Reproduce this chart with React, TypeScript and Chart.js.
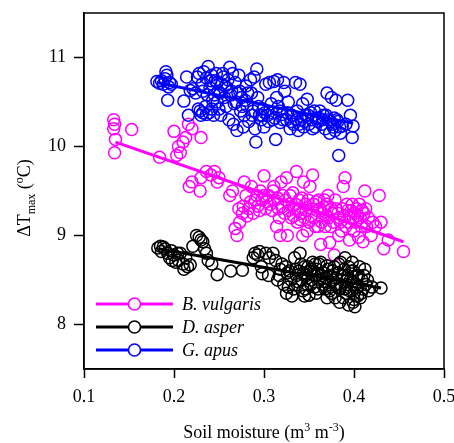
import React, { useEffect, useRef } from "react";
import { Chart, registerables } from "chart.js";

Chart.register(...registerables);

const X_MIN = 0.1;
const X_MAX = 0.5;
const Y_MIN = 7.5;
const Y_MAX = 11.5;
const X_TICKS = [0.1, 0.2, 0.3, 0.4, 0.5];
const Y_TICKS = [8, 9, 10, 11];

const SERIES_NAMES = ["B. vulgaris", "D. asper", "G. apus"];
const SERIES_COLORS = ["#ff00ff", "#000000", "#0000ff"];

// G. apus (blue)
const gApus: number[][] = [
  [0.181, 10.73], [0.184, 10.71], [0.186, 10.74], [0.188, 10.7], [0.19, 10.76], [0.191, 10.84], [0.192, 10.8],
  [0.193, 10.52], [0.194, 10.67], [0.195, 10.72], [0.197, 10.7], [0.211, 10.51], [0.214, 10.78], [0.216, 10.35],
  [0.218, 10.63], [0.221, 10.65], [0.224, 10.6], [0.226, 10.78], [0.228, 10.82], [0.229, 10.4], [0.23, 10.35],
  [0.231, 10.7], [0.233, 10.84], [0.235, 10.45], [0.236, 10.77], [0.238, 10.9], [0.239, 10.38], [0.24, 10.66],
  [0.242, 10.8], [0.243, 10.52], [0.244, 10.35], [0.246, 10.74], [0.247, 10.82], [0.249, 10.62], [0.25, 10.42],
  [0.252, 10.35], [0.253, 10.7], [0.255, 10.78], [0.256, 10.55], [0.258, 10.45], [0.259, 10.66], [0.261, 10.3],
  [0.262, 10.89], [0.263, 10.58], [0.265, 10.82], [0.266, 10.25], [0.267, 10.48], [0.268, 10.72], [0.27, 10.18],
  [0.271, 10.6], [0.272, 10.8], [0.274, 10.4], [0.275, 10.55], [0.277, 10.22], [0.278, 10.35], [0.28, 10.68],
  [0.281, 10.46], [0.283, 10.28], [0.285, 10.75], [0.286, 10.6], [0.288, 10.4], [0.289, 10.78], [0.29, 10.2],
  [0.291, 10.05], [0.292, 10.87], [0.293, 10.55], [0.295, 10.35], [0.297, 10.3], [0.299, 10.42], [0.3, 10.22],
  [0.302, 10.7], [0.304, 10.35], [0.306, 10.72], [0.308, 10.48], [0.31, 10.3], [0.311, 10.73], [0.313, 10.08],
  [0.314, 10.55], [0.315, 10.75], [0.317, 10.4], [0.318, 10.27], [0.32, 10.36], [0.322, 10.72], [0.323, 10.62],
  [0.325, 10.3], [0.327, 10.5], [0.329, 10.2], [0.331, 10.35], [0.333, 10.25], [0.335, 10.72], [0.337, 10.4],
  [0.338, 10.18], [0.34, 10.7], [0.341, 10.3], [0.343, 10.48], [0.344, 10.22], [0.346, 10.35], [0.348, 10.53],
  [0.35, 10.25], [0.352, 10.38], [0.354, 10.2], [0.356, 10.4], [0.358, 10.32], [0.36, 10.28], [0.362, 10.4],
  [0.364, 10.25], [0.366, 10.35], [0.368, 10.2], [0.37, 10.6], [0.372, 10.3], [0.373, 10.15], [0.375, 10.55],
  [0.376, 10.25], [0.378, 10.32], [0.379, 10.18], [0.38, 10.52], [0.382, 10.28], [0.383, 9.9], [0.385, 10.15],
  [0.387, 10.23], [0.391, 10.25], [0.393, 10.52], [0.396, 10.35], [0.398, 10.1], [0.399, 10.23],
  [0.232, 10.62], [0.237, 10.58], [0.241, 10.74], [0.245, 10.58], [0.248, 10.72], [0.251, 10.6], [0.254, 10.82],
  [0.257, 10.68], [0.26, 10.75], [0.264, 10.62], [0.269, 10.5], [0.273, 10.62], [0.276, 10.45], [0.279, 10.52],
  [0.282, 10.6], [0.287, 10.35], [0.294, 10.45], [0.298, 10.35], [0.301, 10.38], [0.305, 10.28], [0.309, 10.38],
  [0.312, 10.32], [0.316, 10.45], [0.321, 10.3], [0.326, 10.38], [0.33, 10.28], [0.336, 10.3], [0.339, 10.25],
  [0.345, 10.28], [0.349, 10.35], [0.353, 10.3], [0.357, 10.22], [0.361, 10.32], [0.365, 10.3], [0.369, 10.35],
  [0.374, 10.28], [0.377, 10.22], [0.381, 10.3], [0.384, 10.22], [0.232, 10.38], [0.227, 10.42], [0.236, 10.36],
  [0.242, 10.42], [0.248, 10.5],
];

// B. vulgaris (magenta)
const bVulgaris: number[][] = [
  [0.133, 10.3], [0.134, 10.25], [0.133, 10.2], [0.135, 10.08], [0.134, 9.93], [0.153, 10.19], [0.184, 9.88],
  [0.2, 10.17], [0.203, 9.9], [0.205, 10.0], [0.207, 9.93], [0.21, 10.05], [0.213, 10.1], [0.216, 10.25],
  [0.22, 10.2], [0.23, 10.1], [0.217, 9.55], [0.22, 9.6], [0.229, 9.5], [0.23, 9.65], [0.236, 9.72], [0.241, 9.68],
  [0.245, 9.72], [0.248, 9.6], [0.25, 9.65], [0.262, 9.45], [0.265, 9.5], [0.268, 9.08], [0.27, 9.0], [0.273, 9.15],
  [0.272, 9.3], [0.276, 9.25], [0.278, 9.6], [0.28, 9.45], [0.283, 9.3], [0.286, 9.55], [0.288, 9.25], [0.29, 9.4],
  [0.293, 9.33], [0.296, 9.5], [0.298, 9.4], [0.3, 9.67], [0.302, 9.3], [0.305, 9.45], [0.307, 9.35], [0.31, 9.5],
  [0.312, 9.4], [0.314, 9.1], [0.316, 9.3], [0.318, 9.0], [0.319, 9.6], [0.321, 9.45], [0.323, 9.25], [0.325, 9.65],
  [0.326, 9.0], [0.328, 9.35], [0.33, 9.2], [0.332, 9.48], [0.334, 9.3], [0.336, 9.72], [0.337, 9.15], [0.339, 9.4],
  [0.341, 9.25], [0.343, 9.0], [0.344, 9.6], [0.346, 9.35], [0.348, 9.05], [0.35, 9.15], [0.351, 9.55], [0.353, 9.3],
  [0.354, 9.68], [0.356, 9.2], [0.358, 9.38], [0.36, 9.1], [0.362, 9.3], [0.363, 8.9], [0.365, 9.25], [0.367, 9.4],
  [0.368, 9.1], [0.37, 9.35], [0.372, 9.2], [0.373, 8.92], [0.375, 9.3], [0.377, 9.15], [0.379, 9.4], [0.378, 8.78],
  [0.382, 9.25], [0.383, 9.0], [0.385, 9.15], [0.387, 9.3], [0.388, 9.55], [0.39, 9.65], [0.391, 9.1], [0.393, 9.28],
  [0.395, 8.95], [0.396, 9.2], [0.398, 9.35], [0.4, 9.05], [0.401, 9.25], [0.403, 9.3], [0.405, 8.98], [0.407, 9.2],
  [0.409, 9.28], [0.41, 8.93], [0.412, 9.5], [0.414, 9.1], [0.416, 9.2], [0.419, 9.0], [0.421, 9.15], [0.424, 9.1],
  [0.428, 9.45], [0.43, 9.15], [0.433, 8.85], [0.438, 8.95], [0.455, 8.82],
  [0.3, 9.45], [0.303, 9.38], [0.309, 9.28], [0.311, 9.55], [0.315, 9.42], [0.317, 9.2], [0.32, 9.32], [0.324, 9.4],
  [0.327, 9.28], [0.329, 9.45], [0.333, 9.22], [0.335, 9.35], [0.338, 9.28], [0.34, 9.18], [0.342, 9.42], [0.345, 9.2],
  [0.347, 9.28], [0.349, 9.4], [0.352, 9.22], [0.355, 9.35], [0.357, 9.1], [0.359, 9.28], [0.361, 9.4], [0.364, 9.15],
  [0.366, 9.32], [0.369, 9.22], [0.371, 9.45], [0.374, 9.1], [0.376, 9.25], [0.38, 9.3], [0.384, 9.2], [0.386, 9.05],
  [0.389, 9.22], [0.392, 9.35], [0.394, 9.15], [0.397, 9.28], [0.399, 9.2], [0.402, 9.15], [0.404, 9.22], [0.406, 9.35],
  [0.408, 9.1], [0.411, 9.25], [0.413, 9.3], [0.285, 9.38], [0.292, 9.45], [0.295, 9.28], [0.277, 9.33], [0.281, 9.22],
];

// D. asper (black)
const dAsper: number[][] = [
  [0.182, 8.86], [0.185, 8.88], [0.188, 8.87], [0.19, 8.85], [0.193, 8.8], [0.195, 8.75], [0.197, 8.83], [0.2, 8.78],
  [0.202, 8.7], [0.205, 8.72], [0.207, 8.8], [0.21, 8.68], [0.213, 8.75], [0.215, 8.65], [0.218, 8.67], [0.221, 8.88],
  [0.225, 9.0], [0.228, 8.98], [0.23, 8.95], [0.232, 8.93], [0.234, 8.85], [0.236, 8.8], [0.238, 8.72], [0.242, 8.68],
  [0.248, 8.56], [0.263, 8.6], [0.276, 8.61], [0.288, 8.75], [0.29, 8.8], [0.293, 8.78], [0.295, 8.82], [0.297, 8.65],
  [0.298, 8.57], [0.302, 8.8], [0.306, 8.75], [0.31, 8.8], [0.313, 8.72], [0.315, 8.5], [0.317, 8.55], [0.32, 8.68],
  [0.322, 8.45], [0.324, 8.65], [0.325, 8.35], [0.327, 8.42], [0.328, 8.6], [0.33, 8.5], [0.331, 8.32], [0.333, 8.4],
  [0.334, 8.75], [0.336, 8.55], [0.337, 8.45], [0.339, 8.6], [0.34, 8.8], [0.342, 8.5], [0.343, 8.38], [0.345, 8.65],
  [0.347, 8.55], [0.348, 8.45], [0.35, 8.33], [0.351, 8.6], [0.353, 8.5], [0.354, 8.7], [0.356, 8.42], [0.357, 8.55],
  [0.359, 8.62], [0.36, 8.4], [0.362, 8.5], [0.363, 8.7], [0.365, 8.45], [0.366, 8.58], [0.368, 8.4], [0.369, 8.52],
  [0.371, 8.62], [0.372, 8.45], [0.374, 8.55], [0.375, 8.35], [0.377, 8.5], [0.378, 8.65], [0.379, 8.3], [0.381, 8.45],
  [0.382, 8.58], [0.384, 8.4], [0.385, 8.7], [0.387, 8.5], [0.388, 8.3], [0.389, 8.62], [0.39, 8.75], [0.392, 8.45],
  [0.393, 8.55], [0.394, 8.22], [0.395, 8.38], [0.397, 8.6], [0.398, 8.48], [0.399, 8.25], [0.4, 8.35], [0.401, 8.2],
  [0.403, 8.55], [0.404, 8.42], [0.406, 8.65], [0.407, 8.3], [0.409, 8.5], [0.41, 8.4], [0.413, 8.45], [0.416, 8.38],
  [0.42, 8.42], [0.43, 8.41],
  [0.335, 8.62], [0.338, 8.48], [0.341, 8.68], [0.344, 8.58], [0.346, 8.4], [0.349, 8.65], [0.352, 8.45], [0.355, 8.6],
  [0.358, 8.35], [0.361, 8.68], [0.364, 8.55], [0.367, 8.48], [0.37, 8.66], [0.373, 8.38], [0.376, 8.6], [0.38, 8.52],
  [0.383, 8.68], [0.386, 8.44], [0.389, 8.55], [0.391, 8.35], [0.394, 8.65], [0.396, 8.5], [0.399, 8.6], [0.402, 8.45],
  [0.405, 8.55], [0.408, 8.35], [0.411, 8.55], [0.398, 8.7], [0.384, 8.25], [0.37, 8.3], [0.357, 8.68], [0.345, 8.32],
  [0.326, 8.58], [0.318, 8.62], [0.305, 8.55], [0.39, 8.4], [0.379, 8.44], [0.36, 8.56], [0.352, 8.62], [0.4, 8.28],
  [0.412, 8.62], [0.415, 8.5], [0.404, 8.32], [0.186, 8.82], [0.198, 8.72], [0.204, 8.8], [0.211, 8.62],
];

// Fitted regression line endpoints [x, y]
const bVulgarisFit: number[][] = [[0.135, 10.05], [0.455, 8.93]];
const dAsperFit: number[][] = [[0.183, 8.85], [0.43, 8.41]];
const gApusFit: number[][] = [[0.181, 10.72], [0.399, 10.26]];

const SERIF = "'Liberation Serif', 'Times New Roman', serif";

const toPts = (arr: number[][]) => arr.map(([x, y]) => ({ x, y }));

const framePlugin = {
  id: "frame",
  afterDraw(chart: any) {
    const { ctx, chartArea: a } = chart;
    ctx.save();
    ctx.strokeStyle = "#000";
    ctx.lineWidth = 1.5;
    ctx.strokeRect(a.left, a.top, a.right - a.left, a.bottom - a.top);
    ctx.restore();
  },
};

const titlesPlugin = {
  id: "titles",
  afterDraw(chart: any) {
    const { ctx, chartArea: a } = chart;
    ctx.save();
    ctx.fillStyle = "#000";
    ctx.textBaseline = "alphabetic";
    ctx.textAlign = "left";
    const big = `18px ${SERIF}`;
    const small = `12px ${SERIF}`;
    const xParts = [
      { t: "Soil moisture (m", f: big, dy: 0 },
      { t: "3", f: small, dy: -7 },
      { t: " m", f: big, dy: 0 },
      { t: "-3", f: small, dy: -7 },
      { t: ")", f: big, dy: 0 },
    ];
    let total = 0;
    xParts.forEach((p) => {
      ctx.font = p.f;
      total += ctx.measureText(p.t).width;
    });
    let x = (a.left + a.right) / 2 - total / 2;
    const baseY = 438;
    xParts.forEach((p) => {
      ctx.font = p.f;
      ctx.fillText(p.t, x, baseY + p.dy);
      x += ctx.measureText(p.t).width;
    });
    const yParts = [
      { t: "\u0394T", f: big, dy: 0 },
      { t: "max", f: small, dy: 5 },
      { t: " (", f: big, dy: 0 },
      { t: "o", f: small, dy: -7 },
      { t: "C)", f: big, dy: 0 },
    ];
    total = 0;
    yParts.forEach((p) => {
      ctx.font = p.f;
      total += ctx.measureText(p.t).width;
    });
    ctx.translate(30, (a.top + a.bottom) / 2 + 7);
    ctx.rotate(-Math.PI / 2);
    let yx = -total / 2;
    yParts.forEach((p) => {
      ctx.font = p.f;
      ctx.fillText(p.t, yx, p.dy);
      yx += ctx.measureText(p.t).width;
    });
    ctx.restore();
  },
};

const legendPlugin = {
  id: "customLegend",
  afterDraw(chart: any) {
    const { ctx } = chart;
    ctx.save();
    SERIES_NAMES.forEach((name, i) => {
      const y = 304 + i * 23;
      ctx.strokeStyle = SERIES_COLORS[i];
      ctx.lineWidth = 3;
      ctx.beginPath();
      ctx.moveTo(96, y);
      ctx.lineTo(173, y);
      ctx.stroke();
      ctx.fillStyle = "#fff";
      ctx.lineWidth = 1.6;
      ctx.beginPath();
      ctx.arc(134.5, y, 6, 0, Math.PI * 2);
      ctx.fill();
      ctx.stroke();
      ctx.fillStyle = "#000";
      ctx.font = `italic 18px ${SERIF}`;
      ctx.textBaseline = "middle";
      ctx.textAlign = "left";
      ctx.fillText(name, 182, y + 1);
    });
    ctx.restore();
  },
};

export default function App() {
  const ref = useRef<HTMLCanvasElement | null>(null);

  useEffect(() => {
    if (!ref.current) return;
    const scatter = (data: number[][], color: string) => ({
      type: "scatter" as const,
      data: toPts(data),
      showLine: false,
      pointStyle: "circle",
      pointRadius: 6,
      pointBorderWidth: 1.5,
      pointBorderColor: color,
      pointBackgroundColor: "rgba(0,0,0,0)",
      borderColor: color,
    });
    const fit = (data: number[][], color: string) => ({
      type: "scatter" as const,
      data: toPts(data),
      showLine: true,
      borderColor: color,
      borderWidth: 3,
      pointRadius: 0,
      fill: false,
    });
    const chart = new Chart(ref.current, {
      type: "scatter",
      data: {
        datasets: [
          fit(gApusFit, SERIES_COLORS[2]),
          scatter(gApus, SERIES_COLORS[2]),
          fit(dAsperFit, SERIES_COLORS[1]),
          scatter(dAsper, SERIES_COLORS[1]),
          fit(bVulgarisFit, SERIES_COLORS[0]),
          scatter(bVulgaris, SERIES_COLORS[0]),
        ] as any,
      },
      options: {
        animation: false,
        responsive: false,
        maintainAspectRatio: false,
        devicePixelRatio: 1,
        layout: { padding: { left: 0, right: 10, top: 13, bottom: 0 } },
        plugins: { legend: { display: false }, tooltip: { enabled: false } },
        scales: {
          x: {
            type: "linear",
            min: X_MIN,
            max: X_MAX,
            afterBuildTicks: (s: any) => {
              s.ticks = X_TICKS.map((v) => ({ value: v }));
            },
            afterFit: (s: any) => {
              s.height = 74;
              s.paddingLeft = 0;
              s.paddingRight = 0;
            },
            grid: {
              display: true,
              drawOnChartArea: false,
              drawTicks: true,
              tickLength: 9,
              tickWidth: 1.5,
              tickColor: "#000",
            },
            border: { display: true, color: "#000", width: 1.5 },
            ticks: {
              autoSkip: false,
              maxRotation: 0,
              padding: 8,
              color: "#000",
              font: { family: SERIF, size: 18 },
              callback: (v: any) => Number(v).toFixed(1),
            },
          },
          y: {
            type: "linear",
            min: Y_MIN,
            max: Y_MAX,
            afterBuildTicks: (s: any) => {
              s.ticks = Y_TICKS.map((v) => ({ value: v }));
            },
            afterFit: (s: any) => {
              s.width = 84;
              s.paddingTop = 0;
              s.paddingBottom = 0;
            },
            grid: {
              display: true,
              drawOnChartArea: false,
              drawTicks: true,
              tickLength: 10,
              tickWidth: 1.5,
              tickColor: "#000",
            },
            border: { display: true, color: "#000", width: 1.5 },
            ticks: {
              autoSkip: false,
              padding: 8,
              color: "#000",
              font: { family: SERIF, size: 18 },
              callback: (v: any) => String(v),
            },
          },
        },
      },
      plugins: [framePlugin, titlesPlugin, legendPlugin],
    });
    return () => chart.destroy();
  }, []);

  return (
    <div style={{ position: "fixed", left: 0, top: 0, width: 454, height: 443, background: "#fff" }}>
      <canvas ref={ref} width={454} height={443} style={{ width: 454, height: 443 }} />
    </div>
  );
}
